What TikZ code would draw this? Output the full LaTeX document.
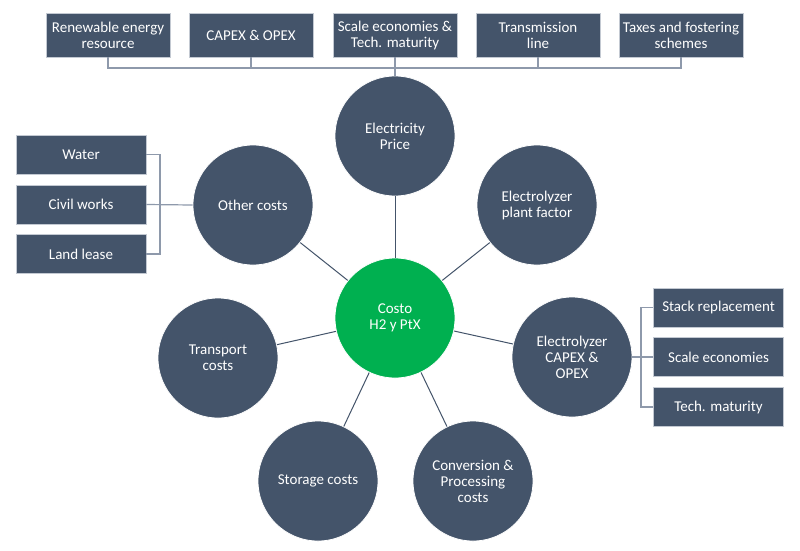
\documentclass[tikz,border=0pt]{standalone}
\usepackage{fontspec}
\setmainfont{Carlito}
\definecolor{slate}{HTML}{44546A}
\definecolor{hgreen}{HTML}{00B050}
\definecolor{brk}{HTML}{8E99AB}
\definecolor{edge}{HTML}{C3C9D2}
\begin{document}
\begin{tikzpicture}[x=1pt,y=-1pt,
  every node/.style={font=\fontsize{15}{16}\selectfont, text=white, align=center, inner sep=0pt},
  bub/.style={circle, fill=slate, draw=white, line width=0.8pt, minimum size=120pt},
  hub/.style={circle, fill=hgreen, draw=white, line width=0.8pt, minimum size=120pt},
  topbox/.style={rectangle, fill=slate, draw=edge, line width=0.8pt, minimum width=124pt, minimum height=44pt},
  sidebox/.style={rectangle, fill=slate, draw=edge, line width=0.8pt, minimum width=130pt, minimum height=39pt},
  spoke/.style={draw=slate, line width=1pt},
  bracket/.style={draw=brk, line width=1.2pt}]
\useasboundingbox[fill=white] (0,0) rectangle (800,550);

% top boxes
\node[topbox] (t1) at (108,35) {Renewable energy\\resource};
\node[topbox] (t2) at (251,35) {CAPEX \& OPEX};
\node[topbox] (t3) at (395,35) {Scale economies \&\\Tech. maturity};
\node[topbox] (t4) at (538,35) {Transmission\\line};
\node[topbox] (t5) at (681,35) {Taxes and fostering\\schemes};

% circles
\node[hub] (hub) at (395,318) {Costo\\H2 y PtX};
\node[bub] (elec) at (395,136) {Electricity\\Price};
\node[bub] (other) at (253,205) {Other costs};
\node[bub] (plant) at (537,205) {Electrolyzer\\plant factor};
\node[bub] (capex) at (572,357) {Electrolyzer\\CAPEX \&\\OPEX};
\node[bub] (trans) at (218,358) {Transport\\costs};
\node[bub] (stor) at (318,481) {Storage costs};
\node[bub] (conv) at (473,481) {Conversion \&\\Processing\\costs};

% left boxes
\node[sidebox] (water) at (81,154.5) {Water};
\node[sidebox] (civil) at (81,204.5) {Civil works};
\node[sidebox] (land) at (81,254) {Land lease};

% right boxes
\node[sidebox] (stack) at (718.5,307.5) {Stack replacement};
\node[sidebox] (scale) at (718.5,357) {Scale economies};
\node[sidebox] (tech) at (718.5,407) {Tech. maturity};

% spokes
\foreach \n in {elec,other,plant,capex,trans,stor,conv}
  \draw[spoke] (hub) -- (\n);

% top bracket
\coordinate (tl) at (108,68);
\coordinate (tr) at (681,68);
\draw[bracket] (t1.south) -- (tl) -- (tr) -- (t5.south);
\foreach \n in {t2,t3,t4}
  \draw[bracket] (\n.south) -- (\n.south |- tl);
\draw[bracket] (t3.south |- tl) -- (elec.north);

% left bracket
\coordinate (lx) at (160,205);
\draw[bracket] (water.east) -| (lx) |- (land.east);
\draw[bracket] (civil.east) -- (other.west);

% right bracket
\coordinate (rx) at (641,357);
\draw[bracket] (stack.west) -| (rx) |- (tech.west);
\draw[bracket] (capex.east) -- (scale.west);

\end{tikzpicture}
\end{document}
